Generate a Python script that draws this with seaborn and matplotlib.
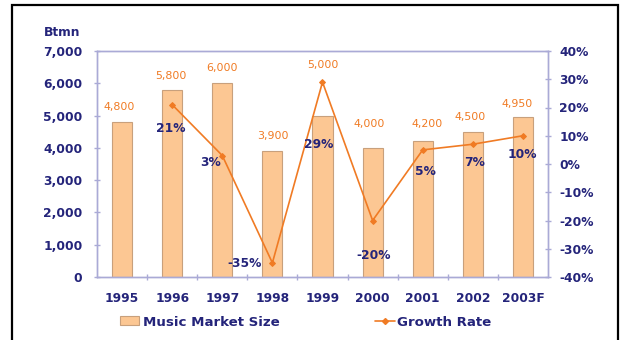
import matplotlib
matplotlib.use("Agg")
import matplotlib.pyplot as plt
import seaborn as sns
import pandas as pd
from matplotlib.patches import Rectangle, Patch
from matplotlib.lines import Line2D
from matplotlib.ticker import FuncFormatter

# --- data -------------------------------------------------------------
years = ["1995", "1996", "1997", "1998", "1999", "2000", "2001", "2002", "2003F"]
market_size = [4800, 5800, 6000, 3900, 5000, 4000, 4200, 4500, 4950]   # Btmn
growth_years = ["1996", "1997", "1998", "1999", "2000", "2001", "2002", "2003F"]
growth_rate = [21, 3, -35, 29, -20, 5, 7, 10]                          # %

# label placement (pixels, dx right / dy up from the mark)
size_label_offsets = [(-3, 15), (-1, 14), (0, 15), (1, 15), (0, 51),
                      (-3, 24), (4, 17), (-3, 15), (-6, 13)]
growth_label_offsets = [(-1, -24), (-12, -7), (-28, -1), (-4, -62),
                        (1, -35), (3, -22), (2, -18), (-1, -19)]

# --- style ------------------------------------------------------------
NAVY = "#24247a"
ORANGE = "#f07b24"
BAR = "#fcc793"
BAR_EDGE = "#c8a07c"
AXIS = "#aaaad6"

sns.set_style("white")
plt.rcParams["font.family"] = ["DejaVu Sans"]

W, H = 626, 340
fig = plt.figure(figsize=(W / 100, H / 100), dpi=100)
ax = fig.add_axes([97 / W, 1 - 277 / H, (548 - 97) / W, (277 - 51) / H])

df = pd.DataFrame({"year": years, "size": market_size})
sns.barplot(data=df, x="year", y="size", ax=ax, color=BAR, width=0.4,
            edgecolor=BAR_EDGE, linewidth=0.8, saturation=1)

ax.set_xlim(-0.5, len(years) - 0.5)
ax.set_ylim(0, 7000)
ax.set_yticks(range(0, 7001, 1000))
ax.yaxis.set_major_formatter(FuncFormatter(lambda v, _: f"{v:,.0f}"))
ax.set_xlabel("")
ax.set_ylabel("")

# growth rate on secondary axis
ax2 = ax.twinx()
pos = [years.index(y) for y in growth_years]
sns.lineplot(x=pos, y=growth_rate, ax=ax2, color=ORANGE, marker="D",
             markersize=3.0, markeredgecolor=ORANGE, linewidth=1.2)
ax2.set_ylim(-40, 40)
ax2.set_yticks(range(-40, 41, 10))
ax2.yaxis.set_major_formatter(FuncFormatter(lambda v, _: f"{v:.0f}%"))
ax2.set_ylabel("")
ax.set_xlim(-0.5, len(years) - 0.5)

tick_font = dict(fontsize=8.8, fontweight="bold", color=NAVY)
for a in (ax, ax2):
    for s in a.spines.values():
        s.set_color(AXIS)
        s.set_linewidth(1.0)
        s.set_visible(True)

ax.tick_params(axis="y", left=True, direction="inout", length=5, width=1,
               color=AXIS, pad=8)
ax.tick_params(axis="x", which="major", length=0, pad=11)
ax.set_xticks([i + 0.5 for i in range(len(years) - 1)], minor=True)
ax.tick_params(axis="x", which="minor", bottom=True, direction="inout",
               length=5, width=1, color=AXIS)
ax2.tick_params(axis="y", right=True, direction="inout", length=5, width=1,
                color=AXIS, pad=5.5)
for lab in ax.get_xticklabels() + ax.get_yticklabels() + ax2.get_yticklabels():
    lab.set(**tick_font)

# value labels
for i, (v, (dx, dy)) in enumerate(zip(market_size, size_label_offsets)):
    ax.annotate(f"{v:,}", xy=(i, v), xytext=(dx, dy), textcoords="offset pixels",
                ha="center", va="center", color=ORANGE, fontsize=7.9)
for p, g, (dx, dy) in zip(pos, growth_rate, growth_label_offsets):
    ax2.annotate(f"{g}%", xy=(p, g), xytext=(dx, dy), textcoords="offset pixels",
                 ha="center", va="center", color=NAVY, fontsize=8.8,
                 fontweight="bold")

fig.text(62 / W, 1 - 32 / H, "Btmn", ha="center", va="center", **tick_font)

# legend entries
leg_font = dict(size=9.6, weight="bold")
bar_handle = Patch(facecolor=BAR, edgecolor=BAR_EDGE, linewidth=0.8)
line_handle = Line2D([], [], color=ORANGE, marker="D", markersize=3.0,
                     linewidth=1.2)
leg1 = fig.legend([bar_handle], ["Music Market Size"], loc="center left",
                  bbox_to_anchor=(120 / W, 1 - 322 / H), frameon=False,
                  borderpad=0, borderaxespad=0, handlelength=1.4,
                  handleheight=0.65, handletextpad=0.3, prop=leg_font)
leg2 = fig.legend([line_handle], ["Growth Rate"], loc="center left",
                  bbox_to_anchor=(375 / W, 1 - 322 / H), frameon=False,
                  borderpad=0, borderaxespad=0, handlelength=1.5,
                  handletextpad=0.15, prop=leg_font)
for leg in (leg1, leg2):
    for t in leg.get_texts():
        t.set_color(NAVY)

# outer frame
fig.patches.append(Rectangle((12 / W, -0.1), (618 - 12) / W, 1.1 - 5 / H,
                             transform=fig.transFigure, fill=False,
                             edgecolor="black", linewidth=1.6))

fig.savefig("out.png", dpi=100)
